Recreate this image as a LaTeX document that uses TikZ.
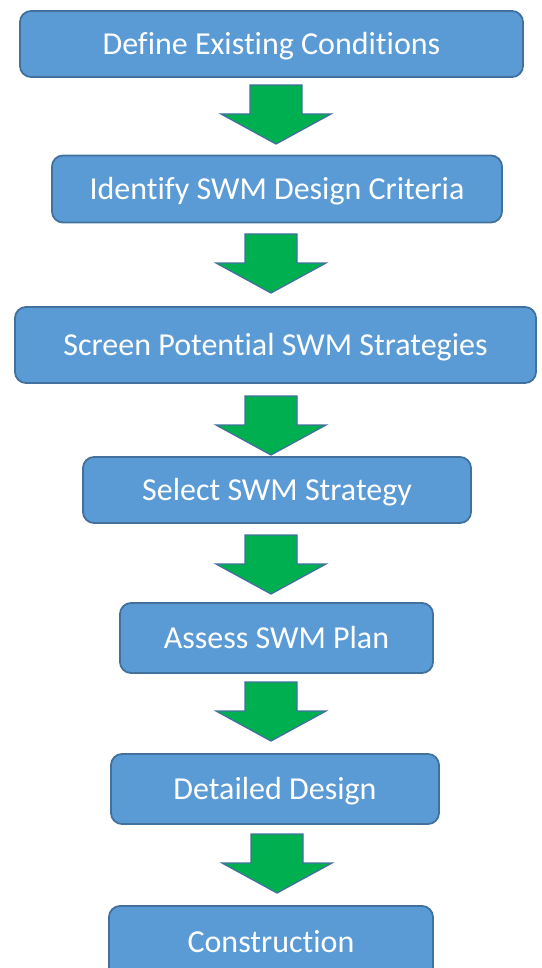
\documentclass[tikz,border=0pt]{standalone}
\usepackage{fontspec}
\setmainfont[Ligatures=NoCommon]{Carlito}
\usetikzlibrary{calc}
\definecolor{boxfill}{HTML}{5B9BD5}
\definecolor{boxline}{HTML}{41719C}
\definecolor{arrfill}{HTML}{00B050}
\begin{document}
\begin{tikzpicture}[x=1pt,y=-1pt,
  stepbox/.style={draw=boxline,fill=boxfill,line width=1.8pt,rounded corners=11pt,text=white,
    font=\fontsize{32}{38}\selectfont,inner sep=0pt,text height=20.6pt,text depth=0pt},
  blockarr/.style={draw=boxline,fill=arrfill,line width=1.3pt,line join=miter}]
\useasboundingbox (0,0) rectangle (541,968);
\clip (0,0) rectangle (541,968);
\newcommand{\barrow}[3]{% center x, top y, name
  \coordinate (#3) at (#1,#2);
  \draw[blockarr] ($(#3)+(-26,0)$) -- ($(#3)+(26,0)$) -- ($(#3)+(26,29)$) -- ($(#3)+(55,29)$) -- ($(#3)+(0,59)$) -- ($(#3)+(-55,29)$) -- ($(#3)+(-26,29)$) -- cycle;}
\node[stepbox,minimum width=503pt,minimum height=66pt] (b1) at (271.5,44) {Define Existing Conditions};
\node[stepbox,minimum width=450pt,minimum height=67pt] (b2) at (277,189) {Identify SWM Design Criteria};
\node[stepbox,minimum width=521pt,minimum height=76pt] (b3) at (275.5,345) {Screen Potential SWM Strategies};
\node[stepbox,minimum width=388pt,minimum height=66pt] (b4) at (277,490) {Select SWM Strategy};
\node[stepbox,minimum width=313pt,minimum height=70pt] (b5) at (276.5,638) {Assess SWM Plan};
\node[stepbox,minimum width=328pt,minimum height=70pt] (b6) at (275,789) {Detailed Design};
\node[stepbox,minimum width=324pt,minimum height=72pt] (b7) at (271,942) {Construction};
\barrow{276}{85}{a1}
\barrow{271}{234}{a2}
\barrow{271}{396}{a3}
\barrow{271}{535}{a4}
\barrow{271}{682}{a5}
\barrow{277}{834}{a6}
\end{tikzpicture}
\end{document}
